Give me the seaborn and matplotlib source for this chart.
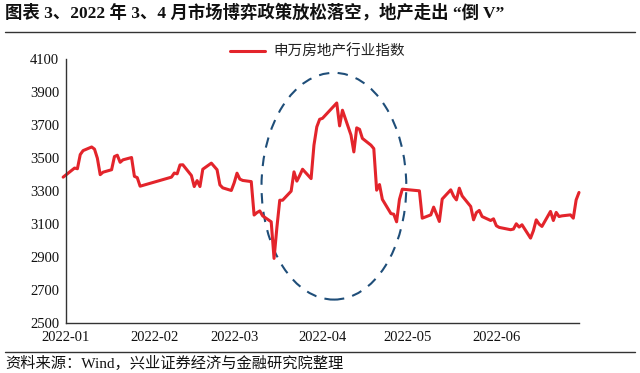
import matplotlib
matplotlib.use("Agg")
import matplotlib.pyplot as plt
import matplotlib.dates as mdates
from matplotlib.patches import Ellipse
from matplotlib.lines import Line2D
import seaborn as sns
import pandas as pd

dates = [
    "2021-12-31",
    "2022-01-04", "2022-01-05", "2022-01-06", "2022-01-07", "2022-01-10", "2022-01-11",
    "2022-01-12", "2022-01-13", "2022-01-14", "2022-01-17", "2022-01-18", "2022-01-19",
    "2022-01-20", "2022-01-21", "2022-01-24", "2022-01-25", "2022-01-26", "2022-01-27",
    "2022-01-28",
    "2022-02-07", "2022-02-08", "2022-02-09", "2022-02-10", "2022-02-11", "2022-02-14",
    "2022-02-15", "2022-02-16", "2022-02-17", "2022-02-18", "2022-02-21", "2022-02-22",
    "2022-02-23", "2022-02-24", "2022-02-25", "2022-02-28",
    "2022-03-01", "2022-03-02", "2022-03-03", "2022-03-04", "2022-03-07", "2022-03-08",
    "2022-03-09", "2022-03-10", "2022-03-11", "2022-03-14", "2022-03-15", "2022-03-16",
    "2022-03-17", "2022-03-18", "2022-03-21", "2022-03-22", "2022-03-23", "2022-03-24",
    "2022-03-25", "2022-03-28", "2022-03-29", "2022-03-30", "2022-03-31",
    "2022-04-01", "2022-04-06", "2022-04-07", "2022-04-08", "2022-04-11", "2022-04-12",
    "2022-04-13", "2022-04-14", "2022-04-15", "2022-04-18", "2022-04-19", "2022-04-20",
    "2022-04-21", "2022-04-22", "2022-04-25", "2022-04-26", "2022-04-27", "2022-04-28",
    "2022-04-29",
    "2022-05-05", "2022-05-06", "2022-05-09", "2022-05-10", "2022-05-11", "2022-05-12",
    "2022-05-13", "2022-05-16", "2022-05-17", "2022-05-18", "2022-05-19", "2022-05-20",
    "2022-05-23", "2022-05-24", "2022-05-25", "2022-05-26", "2022-05-27", "2022-05-30",
    "2022-05-31",
    "2022-06-01", "2022-06-02", "2022-06-06", "2022-06-07", "2022-06-08", "2022-06-09",
    "2022-06-10", "2022-06-13", "2022-06-14", "2022-06-15", "2022-06-16", "2022-06-17",
    "2022-06-20", "2022-06-21", "2022-06-22", "2022-06-23", "2022-06-24", "2022-06-27",
    "2022-06-28", "2022-06-29", "2022-06-30",
]

index_values = [
    3385,
    3440, 3436, 3522, 3546, 3568, 3555,
    3500, 3400, 3415, 3430, 3510, 3518,
    3475, 3490, 3504, 3390, 3382, 3330,
    3335,
    3385, 3410, 3405, 3459, 3460, 3395,
    3328, 3364, 3328, 3433, 3470, 3450,
    3430, 3338, 3320, 3304,
    3350, 3409, 3373, 3365, 3358, 3155,
    3170, 3180, 3150, 3114, 2892, 3080,
    3245, 3245, 3300, 3417, 3361, 3395,
    3433, 3376, 3579, 3690, 3736,
    3742, 3835, 3696, 3791, 3640, 3538,
    3684, 3675, 3620, 3579, 3558, 3306,
    3340, 3250, 3164, 3160, 3114, 3250,
    3312,
    3302, 3136, 3156, 3203, 3160, 3116,
    3252, 3308, 3270, 3247, 3318, 3271,
    3207, 3126, 3170, 3183, 3146, 3122,
    3132,
    3090, 3080, 3066, 3070, 3102, 3082,
    3096, 3015, 3060, 3126, 3100, 3086,
    3177, 3122, 3171, 3146, 3150, 3156,
    3136, 3247, 3292,
]

series_name = "申万房地产行业指数"
tick_labels = ["2022-01", "2022-02", "2022-03", "2022-04", "2022-05", "2022-06"]
tick_dates = ["2022-01-01", "2022-02-01", "2022-03-01", "2022-04-01", "2022-05-01", "2022-06-01"]
y_ticks = [2500, 2700, 2900, 3100, 3300, 3500, 3700, 3900, 4100]

title_text = "图表 3、2022 年 3、4 月市场博弈政策放松落空，地产走出 “倒 V”"
source_text = "资料来源：Wind，兴业证券经济与金融研究院整理"

sns.set_style("white")
plt.rcParams["font.family"] = ["Liberation Serif", "Noto Sans CJK SC", "DejaVu Sans"]

df = pd.DataFrame({"date": pd.to_datetime(dates), "value": index_values, "series": series_name})

fig = plt.figure(figsize=(6.4, 3.73), dpi=100)
ax = fig.add_axes([66 / 640, 1 - 323 / 373, (579 - 66) / 640, (323 - 59.3) / 373])

sns.lineplot(data=df, x="date", y="value", hue="series", palette=["#E3242B"],
             linewidth=2.2, ax=ax, clip_on=False)

ax.set_xlim(pd.Timestamp("2022-01-01"), pd.Timestamp("2022-06-30"))
ax.set_ylim(2500, 4100)
ax.set_yticks(y_ticks)
ax.set_yticklabels([str(v) for v in y_ticks])
ax.set_xticks(pd.to_datetime(tick_dates))
ax.set_xticklabels(tick_labels)
ax.set_xlabel("")
ax.set_ylabel("")

for s in ["top", "right"]:
    ax.spines[s].set_visible(False)
for s in ["left", "bottom"]:
    ax.spines[s].set_color("#333333")
    ax.spines[s].set_linewidth(1.0)
ax.tick_params(axis="both", direction="in", length=4, width=1.0, color="#333333",
               labelsize=10.5, labelcolor="#111111")
ax.tick_params(axis="x", pad=6)
ax.tick_params(axis="y", pad=5)

# dashed ellipse highlighting the inverted V
cx = mdates.date2num(pd.Timestamp("2022-04-05"))
ell = Ellipse((cx, 3330), width=50.8, height=1376, fill=False,
              edgecolor="#1F4E79", linestyle=(0, (5, 4)), linewidth=1.5)
ax.add_patch(ell)

leg = ax.legend(loc="center", bbox_to_anchor=(0.49, 1.027), frameon=False,
                fontsize=10.5, handlelength=2.4, handletextpad=0.6, borderaxespad=0)
for t in leg.get_texts():
    t.set_family(["Noto Sans CJK SC", "DejaVu Sans"])
    t.set_color("#222222")

fig.text(5 / 640, 1 - 13 / 373, title_text, fontsize=12.5, fontweight="bold",
         ha="left", va="center", color="#111111")
fig.add_artist(Line2D([5 / 640, 635 / 640], [1 - 32 / 373, 1 - 32 / 373],
                      color="#333333", linewidth=1.0))
fig.add_artist(Line2D([5 / 640, 635 / 640], [1 - 352 / 373, 1 - 352 / 373],
                      color="#333333", linewidth=1.0))
fig.text(5 / 640, 1 - 363 / 373, source_text, fontsize=11,
         ha="left", va="center", color="#111111")

fig.savefig("out.png", dpi=100)
